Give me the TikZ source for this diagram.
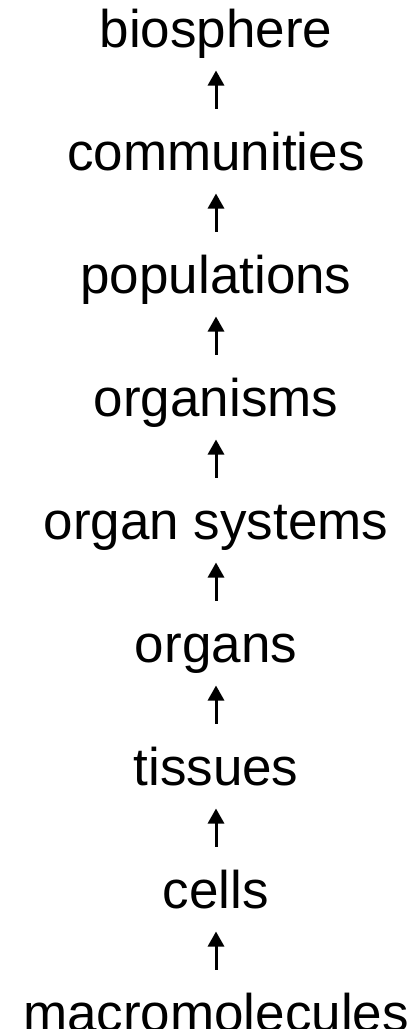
\documentclass[tikz,border=0pt]{standalone}
\usepackage{fontspec}
\setmainfont{Liberation Sans}
\usetikzlibrary{arrows.meta,positioning}

\begin{document}
\begin{tikzpicture}[
   font=\fontsize{53pt}{60pt}\selectfont,
   node distance=122pt,
   level/.style={inner sep=0pt,outer sep=0pt,text height=0pt,text depth=0pt},
   up/.style={-{Triangle[length=15pt,width=16pt]},line width=3pt,shorten >=23pt,shorten <=61pt}]
\useasboundingbox (0,0) rectangle (413pt,-1029pt);
\node[level] (bio) at (216pt,-47pt) {biosphere};
\node[level,below=of bio] (com) {communities};
\node[level,below=of com] (pop) {populations};
\node[level,below=of pop] (org) {organisms};
\node[level,below=of org] (sys) {organ systems};
\node[level,below=of sys] (orn) {organs};
\node[level,below=of orn] (tis) {tissues};
\node[level,below=of tis] (cel) {cells};
\node[level,below=of cel] (mac) {macromolecules};
\draw[up] (com) -- (bio);
\draw[up] (pop) -- (com);
\draw[up] (org) -- (pop);
\draw[up] (sys) -- (org);
\draw[up] (orn) -- (sys);
\draw[up] (tis) -- (orn);
\draw[up] (cel) -- (tis);
\draw[up] (mac) -- (cel);
\end{tikzpicture}
\end{document}
